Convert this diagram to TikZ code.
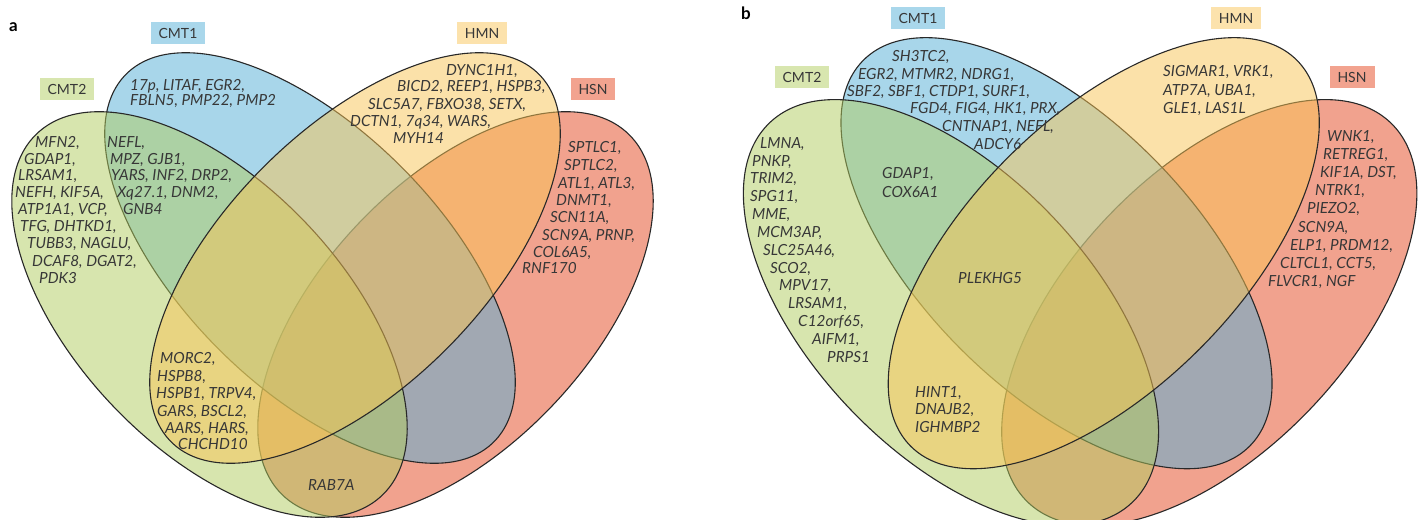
\documentclass[tikz,border=0pt]{standalone}
\usepackage{fontspec}
\setmainfont{Lato}
\newfontfamily\latofam{Lato}
\definecolor{cHSN}{RGB}{229,71,31}
\definecolor{cCMTone}{RGB}{83,175,215}
\definecolor{cCMTtwo}{RGB}{177,205,95}
\definecolor{cHMN}{RGB}{249,197,85}
\definecolor{lCMTone}{RGB}{169,215,235}
\definecolor{lCMTtwo}{RGB}{216,230,175}
\definecolor{lHMN}{RGB}{252,226,172}
\definecolor{lHSN}{RGB}{242,163,143}
\definecolor{vline}{RGB}{40,40,40}
\definecolor{txt}{RGB}{55,55,55}
\newcommand\genefont{\latofam\itshape\fontsize{15.3}{17}\selectfont}
\newcommand\labfont{\latofam\fontsize{14}{16}\selectfont}
\tikzset{
  vfill/.style={fill=#1, fill opacity=0.5, draw=vline, line width=1.1pt},
  gene/.style={font=\genefont, text=txt, inner sep=0pt, anchor=base west},
  setlabel/.style={fill=#1, font=\labfont, text=txt, inner xsep=8pt, inner ysep=0pt, minimum height=22pt},
  panel/.style={font=\latofam\bfseries\fontsize{17}{17}\selectfont, text=black, inner sep=0pt, anchor=base west}
}
\newcommand\gn[4]{\node[gene] (#1) at (#2,#3+5) {#4};}
\newcommand\drawvenn{%
  \begin{scope}[shift={(455.5,314.5)},rotate=46.3]
    \filldraw[vfill=cHSN] (0,0) ellipse [x radius=250, y radius=133];
  \end{scope}
  \begin{scope}[shift={(310,258)},rotate=-45]
    \filldraw[vfill=cCMTone] (0,0) ellipse [x radius=260, y radius=129];
  \end{scope}
  \begin{scope}[shift={(209.5,314.5)},rotate=-46.3]
    \filldraw[vfill=cCMTtwo] (0,0) ellipse [x radius=250, y radius=133];
  \end{scope}
  \begin{scope}[shift={(355,258)},rotate=45]
    \filldraw[vfill=cHMN] (0,0) ellipse [x radius=260, y radius=129];
  \end{scope}
}
\begin{document}
\begin{tikzpicture}[x=1pt,y=-1pt]
\fill[white] (0,0) rectangle (1423,519);
\path[use as bounding box] (0,0) rectangle (1423,519);
\begin{scope}
  \clip (0,0) rectangle (1423,519);
  \drawvenn
  \begin{scope}[shift={(731,-17.7)},scale=1.05]
    \drawvenn
  \end{scope}
\end{scope}

% ---------- panel a ----------
\node[panel] (pa) at (9,32) {a};
\node[setlabel=lCMTone] (la1) at (178,33) {CMT1};
\node[setlabel=lCMTtwo] (la2) at (67,89) {CMT2};
\node[setlabel=lHMN] (la3) at (482,33) {HMN};
\node[setlabel=lHSN] (la4) at (593,89) {HSN};

\gn{a11}{130}{85}{17p, LITAF, EGR2,}
\gn{a12}{130}{100}{FBLN5, PMP22, PMP2}

\gn{a21}{35}{142}{MFN2,}
\gn{a22}{24}{159}{GDAP1,}
\gn{a23}{18}{175}{LRSAM1,}
\gn{a24}{15}{192}{NEFH, KIF5A,}
\gn{a25}{18}{209}{ATP1A1, VCP,}
\gn{a26}{20}{226}{TFG, DHTKD1,}
\gn{a27}{27}{243}{TUBB3, NAGLU,}
\gn{a28}{32}{261}{DCAF8, DGAT2,}
\gn{a29}{39}{278}{PDK3}

\gn{a31}{107}{142}{NEFL,}
\gn{a32}{110}{159}{MPZ, GJB1,}
\gn{a33}{111}{175}{YARS, INF2, DRP2,}
\gn{a34}{117}{192}{Xq27.1, DNM2,}
\gn{a35}{123}{209}{GNB4}

\gn{a41}{446}{70}{DYNC1H1,}
\gn{a42}{397}{87}{BICD2, REEP1, HSPB3,}
\gn{a43}{368}{104}{SLC5A7, FBXO38, SETX,}
\gn{a44}{350}{121}{DCTN1, 7q34, WARS,}
\gn{a45}{393}{138}{MYH14}

\gn{a51}{568}{147}{SPTLC1,}
\gn{a52}{564}{165}{SPTLC2,}
\gn{a53}{558}{183}{ATL1, ATL3,}
\gn{a54}{556}{200}{DNMT1,}
\gn{a55}{550}{217}{SCN11A,}
\gn{a56}{542}{235}{SCN9A, PRNP,}
\gn{a57}{533}{252}{COL6A5,}
\gn{a58}{522}{268}{RNF170}

\gn{a61}{160}{358}{MORC2,}
\gn{a62}{157}{376}{HSPB8,}
\gn{a63}{156}{393}{HSPB1, TRPV4,}
\gn{a64}{157}{411}{GARS, BSCL2,}
\gn{a65}{165}{428}{AARS, HARS,}
\gn{a66}{178}{444}{CHCHD10}

\gn{a71}{308}{485}{RAB7A}

% ---------- panel b ----------
\node[panel] (pb) at (741,20) {b};
\node[setlabel=lCMTone] (lb1) at (918,18) {CMT1};
\node[setlabel=lCMTtwo] (lb2) at (802,77) {CMT2};
\node[setlabel=lHMN] (lb3) at (1236,18) {HMN};
\node[setlabel=lHSN] (lb4) at (1352,77) {HSN};

\gn{b11}{892}{57}{SH3TC2,}
\gn{b12}{858}{74}{EGR2, MTMR2, NDRG1,}
\gn{b13}{847}{91}{SBF2, SBF1, CTDP1, SURF1,}
\gn{b14}{910}{108}{FGD4, FIG4, HK1, PRX,}
\gn{b15}{942}{126}{CNTNAP1, NEFL,}
\gn{b16}{974}{144}{ADCY6}

\gn{b21}{760}{143}{LMNA,}
\gn{b22}{752}{161}{PNKP,}
\gn{b23}{750}{178}{TRIM2,}
\gn{b24}{750}{196}{SPG11,}
\gn{b25}{752}{214}{MME,}
\gn{b26}{757}{232}{MCM3AP,}
\gn{b27}{763}{250}{SLC25A46,}
\gn{b28}{770}{268}{SCO2,}
\gn{b29}{779}{285}{MPV17,}
\gn{b210}{788}{303}{LRSAM1,}
\gn{b211}{798}{321}{C12orf65,}
\gn{b212}{812}{339}{AIFM1,}
\gn{b213}{827}{357}{PRPS1}

\gn{b31}{882}{173}{GDAP1,}
\gn{b32}{882}{192}{COX6A1}

\gn{b41}{1163}{72}{SIGMAR1, VRK1,}
\gn{b42}{1163}{90}{ATP7A, UBA1,}
\gn{b43}{1163}{108}{GLE1, LAS1L}

\gn{b51}{1327}{136}{WNK1,}
\gn{b52}{1323}{154}{RETREG1,}
\gn{b53}{1320}{172}{KIF1A, DST,}
\gn{b54}{1315}{190}{NTRK1,}
\gn{b55}{1307}{208}{PIEZO2,}
\gn{b56}{1298}{227}{SCN9A,}
\gn{b57}{1290}{245}{ELP1, PRDM12,}
\gn{b58}{1280}{263}{CLTCL1, CCT5,}
\gn{b59}{1268}{281}{FLVCR1, NGF}

\gn{b61}{958}{278}{PLEKHG5}

\gn{b71}{915}{392}{HINT1,}
\gn{b72}{915}{409}{DNAJB2,}
\gn{b73}{915}{427}{IGHMBP2}
\end{tikzpicture}
\end{document}
